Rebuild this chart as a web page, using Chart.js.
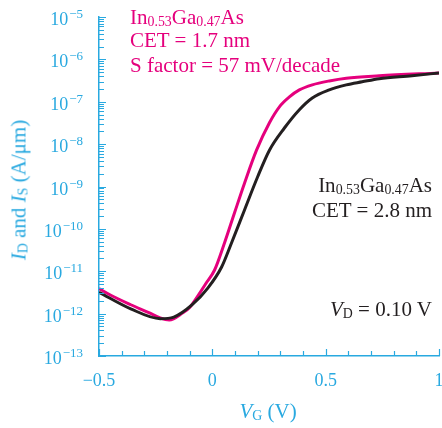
<!DOCTYPE html>
<html>
<head>
<meta charset="utf-8">
<script src="https://cdn.jsdelivr.net/npm/chart.js@4/dist/chart.umd.min.js"></script>
<style>
  body { margin: 0; background: #fff; }
  #wrap { position: relative; width: 442px; height: 428px; font-family: "Liberation Serif", serif; }
  #chart { position: absolute; left: 0; top: 0; }
  .note { position: absolute; font-size: 21px; line-height: 21px; white-space: nowrap; }
  .note sub { font-size: 0.66em; vertical-align: -2px; line-height: 0; }
  .pink { color: #e5007d; left: 130px; }
  .dark { color: #231f20; right: 10px; text-align: right; }
  .axis { color: #29a9e0; }
  #ytitle { position: absolute; left: 19px; top: 190px; transform: translate(-50%, -50%) rotate(-90deg); }
  #xtitle { position: absolute; left: 268px; top: 401px; transform: translateX(-50%); }
</style>
</head>
<body>
<div id="wrap">
  <canvas id="chart" width="442" height="428"></canvas>
  <div class="note pink" style="top:7px">In<sub>0.53</sub>Ga<sub>0.47</sub>As</div>
  <div class="note pink" style="top:30px">CET = 1.7 nm</div>
  <div class="note pink" style="top:55px">S factor = 57 mV/decade</div>
  <div class="note dark" style="top:175px">In<sub>0.53</sub>Ga<sub>0.47</sub>As</div>
  <div class="note dark" style="top:200px">CET = 2.8 nm</div>
  <div class="note dark" style="top:299px"><i>V</i><sub>D</sub> = 0.10 V</div>
  <div class="note axis" id="ytitle"><i>I</i><sub>D</sub> and <i>I</i><sub>S</sub> (A/μm)</div>
  <div class="note axis" id="xtitle"><i>V</i><sub>G</sub> (V)</div>
</div>
<script>
// Données (VG en V, courant en A/µm)
const vgThin = [-0.5, -0.45, -0.36, -0.28, -0.23, -0.19, -0.13, -0.10, -0.06, -0.03, 0.01, 0.054, 0.098, 0.142, 0.195, 0.252, 0.296, 0.34, 0.384, 0.441, 0.516, 0.591, 0.736, 1.0];
const idThin = [3.9e-12, 2.75e-12, 1.62e-12, 1.05e-12, 7.9e-13, 7.1e-13, 1.05e-12, 1.4e-12, 2.8e-12, 5.0e-12, 1.07e-11, 4.7e-11, 2.4e-10, 1.2e-9, 7.2e-9, 3.2e-8, 7.6e-8, 1.3e-7, 1.9e-7, 2.5e-7, 3.1e-7, 3.6e-7, 4.1e-7, 4.8e-7];

const vgThick = [-0.5, -0.36, -0.23, -0.17, -0.09, -0.02, 0.041, 0.085, 0.142, 0.2, 0.252, 0.318, 0.384, 0.441, 0.516, 0.591, 0.661, 0.736, 0.881, 1.0];
const idThick = [3.2e-12, 1.3e-12, 7.6e-13, 8.3e-13, 1.6e-12, 4.0e-12, 1.26e-11, 4.7e-11, 2.8e-10, 1.7e-9, 7.2e-9, 2.4e-8, 6.5e-8, 1.23e-7, 1.9e-7, 2.5e-7, 2.95e-7, 3.5e-7, 4.1e-7, 4.8e-7];

const xLabels = { '-0.5': '−0.5', '0': '0', '0.5': '0.5', '1': '1' };
const decades = [-13, -12, -11, -10, -9, -8, -7, -6, -5];

const blue = '#29a9e0';

function toPoints(xs, ys) {
    return xs.map((x, i) => ({ x: x, y: ys[i] }));
}

// Graduations vers l'intérieur + étiquettes 10^n avec exposant
const axisDecor = {
    id: 'axisDecor',
    afterDatasetsDraw(chart) {
        const ctx = chart.ctx;
        const xs = chart.scales.x;
        const ys = chart.scales.y;
        ctx.save();
        ctx.strokeStyle = blue;
        ctx.lineWidth = 1.2;
        ctx.beginPath();
        for (let i = -5; i <= 10; i++) {
            const px = Math.round(xs.getPixelForValue(i / 10)) + 0.5;
            const len = (i % 5 === 0) ? 7 : 5;
            ctx.moveTo(px, ys.bottom);
            ctx.lineTo(px, ys.bottom - len);
        }
        decades.forEach(d => {
            for (let k = 1; k <= 9; k++) {
                if (d === -5 && k > 1) break;
                const py = Math.round(ys.getPixelForValue(k * Math.pow(10, d))) + 0.5;
                const len = (k === 1) ? 7 : 5;
                ctx.moveTo(xs.left, py);
                ctx.lineTo(xs.left + len, py);
            }
        });
        ctx.stroke();

        // étiquettes de l'axe Y
        ctx.fillStyle = blue;
        ctx.textAlign = 'right';
        ctx.textBaseline = 'alphabetic';
        const right = xs.left - 16;
        decades.forEach(d => {
            const py = ys.getPixelForValue(Math.pow(10, d));
            const exp = '−' + Math.abs(d);
            ctx.font = '13px "Liberation Serif"';
            const w = ctx.measureText(exp).width;
            ctx.fillText(exp, right, py + 1);
            ctx.font = '18px "Liberation Serif"';
            ctx.fillText('10', right - w - 1, py + 8);
        });
        ctx.restore();
    }
};

const ctx = document.getElementById('chart').getContext('2d');
new Chart(ctx, {
    type: 'line',
    data: {
        datasets: [{
            label: 'CET = 2.8 nm',
            data: toPoints(vgThick, idThick),
            borderColor: '#231f20',
            borderWidth: 3,
            pointRadius: 0,
            cubicInterpolationMode: 'monotone',
            fill: false
        }, {
            label: 'CET = 1.7 nm',
            data: toPoints(vgThin, idThin),
            borderColor: '#e5007d',
            borderWidth: 3,
            pointRadius: 0,
            cubicInterpolationMode: 'monotone',
            fill: false
        }]
    },
    options: {
        responsive: false,
        animation: false,
        layout: { padding: { top: 17, right: 3, left: 0, bottom: 0 } },
        plugins: { legend: { display: false }, tooltip: { enabled: false } },
        scales: {
            x: {
                type: 'linear',
                min: -0.5,
                max: 1,
                grid: { display: false, drawTicks: false },
                border: { display: true, color: blue, width: 1.5 },
                afterBuildTicks: s => { s.ticks = [-0.5, 0, 0.5, 1].map(v => ({ value: v })); },
                afterFit: s => { s.height = 72; s.paddingLeft = 0; s.paddingRight = 0; },
                ticks: {
                    color: blue,
                    padding: 14,
                    maxRotation: 0,
                    font: { family: 'Liberation Serif', size: 18 },
                    callback: v => xLabels[String(v)]
                }
            },
            y: {
                type: 'logarithmic',
                min: 1e-13,
                max: 1e-5,
                grid: { display: false, drawTicks: false },
                border: { display: true, color: blue, width: 1.5 },
                afterBuildTicks: s => { s.ticks = decades.map(d => ({ value: Math.pow(10, d) })); },
                afterFit: s => { s.width = 99; s.paddingTop = 0; s.paddingBottom = 0; },
                ticks: { display: false }
            }
        }
    },
    plugins: [axisDecor]
});
</script>
</body>
</html>
